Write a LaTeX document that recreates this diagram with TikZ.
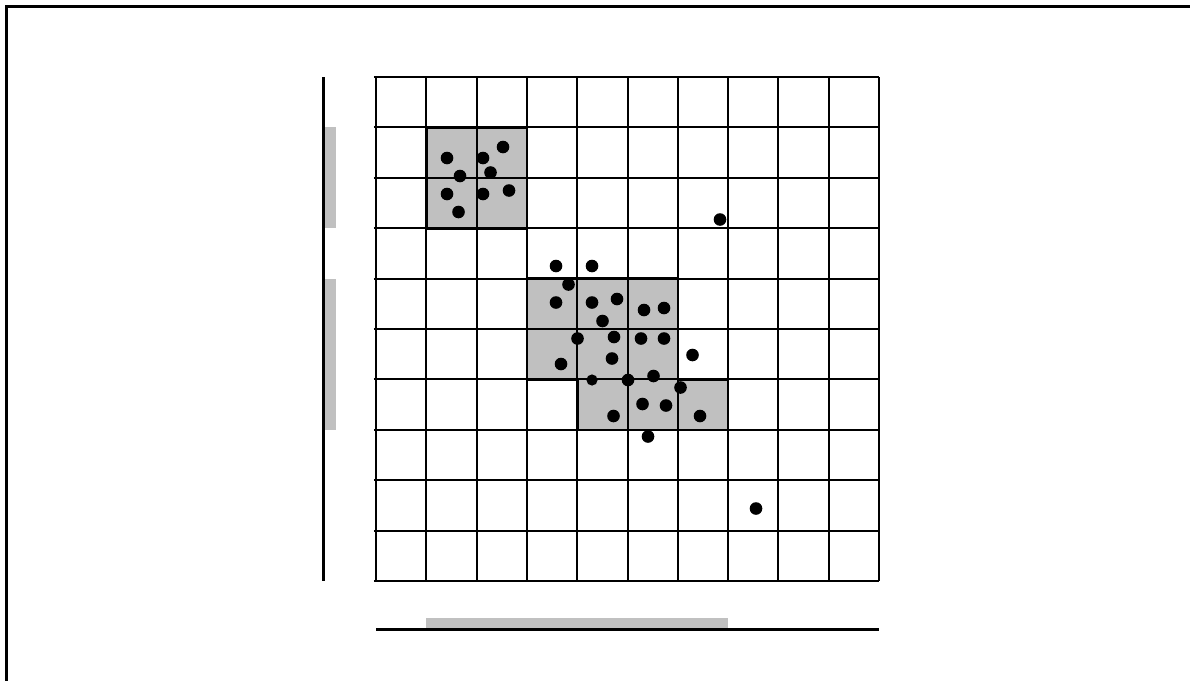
\documentclass[tikz,border=0pt]{standalone}
\definecolor{gry}{RGB}{192,192,192}
\tikzset{
  frameline/.style={line width=3.4pt},
  gridline/.style={line width=2pt},
  shadeoutline/.style={line width=2.6pt},
  axisline/.style={line width=3.1pt},
  shadefill/.style={fill=gry},
  dot/.style={fill=black}
}
\begin{document}
\begin{tikzpicture}[x=1pt,y=-1pt]
\useasboundingbox (0,0) rectangle (1190,680);
% frame
\draw[frameline] (6.5,682) -- (6.5,6.5) -- (1192,6.5);
% grid scope: cell coordinates
\begin{scope}[shift={(376,77)},x=50.3pt,y=-50.4pt]
  \fill[shadefill] (1,1) rectangle (3,3);
  \fill[shadefill] (3,4) -- (6,4) -- (6,6) -- (7,6) -- (7,7) -- (4,7) -- (4,6) -- (3,6) -- cycle;
  \foreach \i in {0,...,10} {
    \draw[gridline] (\i,0) -- (\i,10);
    \draw[gridline] (-0.04,\i) -- (10,\i);
  }
  \draw[shadeoutline] (1,1) rectangle (3,3);
  \draw[shadeoutline] (3,4) -- (6,4) -- (6,6) -- (7,6) -- (7,7) -- (4,7) -- (4,6) -- (3,6) -- cycle;
  % projections
  \fill[shadefill] (-1.01,1) rectangle (-0.79,3);
  \fill[shadefill] (-1.01,4) rectangle (-0.79,7);
  \draw[axisline] (-1.05,0) -- (-1.05,10);
  \fill[shadefill] (1,10.73) rectangle (7,10.97);
  \draw[axisline] (0,10.97) -- (10,10.97);
\end{scope}
% points
\foreach \px/\py in {
  447/158, 483/158, 503/147, 460/176, 490.5/172.5, 447/194, 483/194, 509/190.5, 458.5/212,
  556/266, 592/266, 568.5/284.5, 556/302.5, 592/302.5, 617/299, 644/310, 664/308, 602.5/321,
  577.5/338.5, 614/337, 641/338.5, 664/338.5, 692.5/355, 612/358.5, 561/364,
  628/380, 653.5/376, 680.5/387.5, 642.5/404, 666/405.5, 613.5/416, 700/416, 648/436.5,
  720/219.5, 756/508.5} {
  \fill[dot] (\px,\py) circle (6.3);
}
\fill[dot] (592,380) circle (5.6);
\end{tikzpicture}
\end{document}
